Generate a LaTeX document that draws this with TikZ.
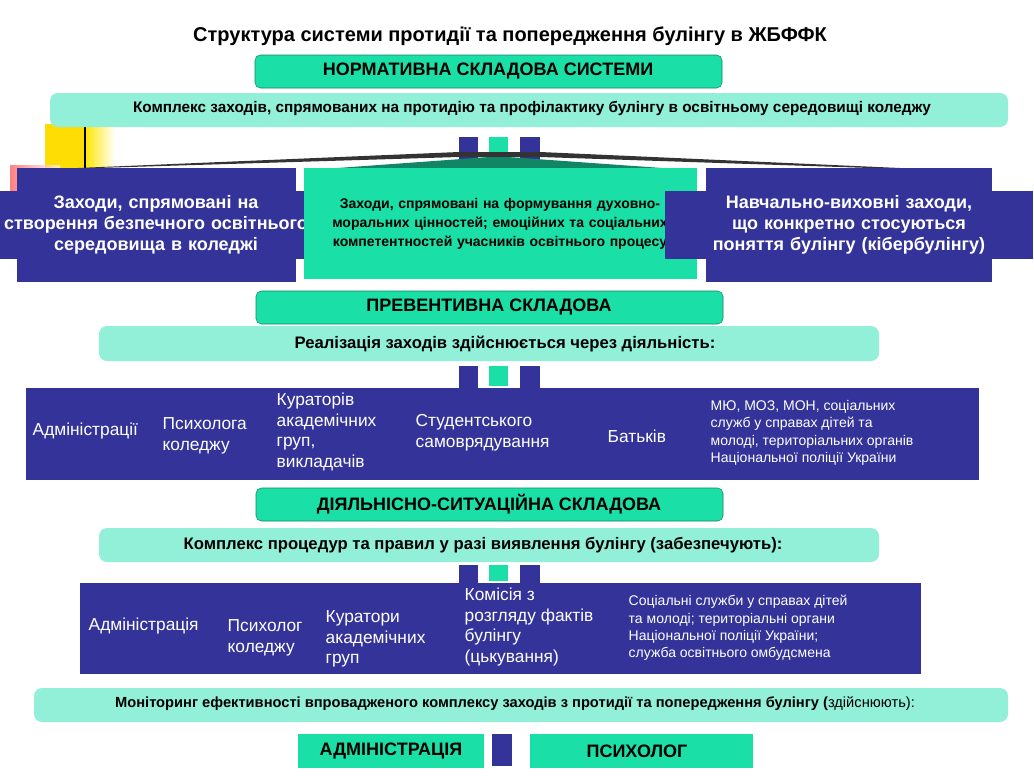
\documentclass[tikz,border=0pt]{standalone}
\usepackage{fontspec}
\setmainfont{Liberation Sans}
\definecolor{navy}{HTML}{333399}
\definecolor{mint}{HTML}{1ADFA6}
\definecolor{lmint}{HTML}{92F0D8}
\begin{document}
\begin{tikzpicture}[x=0.75pt,y=-0.75pt,
 hdr/.style={fill=mint,draw=mint!60!black,rounded corners=4pt,font=\bfseries\fontsize{13.5}{15}\selectfont},
 lbar/.style={fill=lmint,rounded corners=6pt,font=\bfseries\fontsize{11.5}{13}\selectfont},
 nbox/.style={fill=navy,text=white,font=\bfseries\fontsize{13.5}{16}\selectfont,align=center},
 band/.style={fill=navy},
 btxt/.style={text=white,anchor=west,align=left,font=\fontsize{13}{15.5}\selectfont},
 stxt/.style={text=white,anchor=west,align=left,font=\fontsize{10.5}{13}\selectfont}]
\useasboundingbox (0,0) rectangle (1034,775);
\node (title) at (510,36) {\bfseries\fontsize{15}{18}\selectfont Структура системи протидії та попередження булінгу в ЖБФФК};
% decorations
\fill[yellow!80!orange] (45,124) rectangle (85,190);
\shade[left color=yellow!80!orange,right color=white] (85,124) rectangle (115,190);
\shade[left color=red!70,right color=white,opacity=0.7] (10,165) rectangle (60,215);
\draw[thick] (85,100) -- (85,172);
\path[hdr] (255,55) rectangle (722,88);
\node (n1) at (488,71) {\bfseries\fontsize{13.5}{15}\selectfont НОРМАТИВНА СКЛАДОВА СИСТЕМИ};
\path[lbar] (50,93) rectangle (1008,127);
\node (k1) at (532,108) {\bfseries\fontsize{11.5}{13}\selectfont Комплекс заходів, спрямованих на протидію та профілактику булінгу в освітньому середовищі коледжу};
% connector squares
\fill[navy] (459,137) rectangle (478,160);
\fill[mint] (489,137) rectangle (508,160);
\fill[navy] (520,137) rectangle (540,160);
\fill[black!80] (30,170) -- (459,152) -- (540,152) -- (990,172) -- (540,157) -- (459,157) -- cycle;
\fill[mint!60!black] (310,170) -- (489,157) -- (508,157) -- (690,170) -- cycle;
\draw[gray!60,thick] (296,202) -- (706,202);
\fill[navy] (17,168) rectangle (296,282);
\node[nbox,text width=270] (b1) at (156,225) {Заходи, спрямовані на створення безпечного освітнього середовища в коледжі};
\fill[mint] (304,168) rectangle (697,279);
\node[align=center,font=\bfseries\fontsize{10.5}{14.5}\selectfont,text width=385] (b2) at (500,224) {Заходи, спрямовані на формування духовно-моральних цінностей; емоційних та соціальних компетентностей учасників освітнього процесу};
\fill[navy] (706,168) rectangle (992,282);
\node[nbox,text width=270] (b3) at (849,225) {Навчально-виховні заходи, що конкретно стосуються поняття булінгу (кібербулінгу)};
% preventive
\path[hdr] (256,291) rectangle (723,324);
\node (n2) at (489,307) {\bfseries\fontsize{13.5}{15}\selectfont ПРЕВЕНТИВНА СКЛАДОВА};
\path[lbar] (99,326) rectangle (879,361);
\node (k2) at (505,344) {\bfseries\fontsize{12.5}{14}\selectfont Реалізація заходів здійснюється через діяльність:};
\fill[navy] (459,366) rectangle (478,389);
\fill[mint] (489,366) rectangle (508,386);
\fill[navy] (520,366) rectangle (540,389);
\path[band] (26,388) rectangle (979,480);
\node[btxt] (p1) at (28,431) {Адміністрації};
\node[btxt] (p2) at (158,436) {Психолога\\коледжу};
\node[btxt] (p3) at (272,432) {Кураторів\\академічних\\груп,\\викладачів};
\node[btxt] (p4) at (411,433) {Студентського\\самоврядування};
\node[btxt] (p5) at (603,436) {Батьків};
\node[stxt] (p6) at (706,433) {МЮ, МОЗ, МОН, соціальних\\служб у справах дітей та\\молоді, територіальних органів\\Національної поліції України};
% situational
\path[hdr] (256,488) rectangle (723,521);
\node (n3) at (489,504) {\bfseries\fontsize{13.5}{15}\selectfont ДІЯЛЬНІСНО-СИТУАЦІЙНА СКЛАДОВА};
\path[lbar] (99,528) rectangle (879,562);
\node (k3) at (483,545) {\bfseries\fontsize{12.5}{14}\selectfont Комплекс процедур та правил у разі виявлення булінгу (забезпечують):};
\fill[navy] (459,565) rectangle (478,584);
\fill[mint] (489,565) rectangle (508,581);
\fill[navy] (520,565) rectangle (540,584);
\path[band] (80,583) rectangle (921,674);
\node[btxt] (s1) at (84,626) {Адміністрація};
\node[btxt] (s2) at (223,638) {Психолог\\коледжу};
\node[btxt] (s3) at (321,639) {Куратори\\академічних\\груп};
\node[btxt] (s4) at (460,627) {Комісія з\\розгляду фактів\\булінгу\\(цькування)};
\node[stxt] (s5) at (624,628) {Соціальні служби у справах дітей\\та молоді; територіальні органи\\Національної поліції України;\\служба освітнього омбудсмена};
% monitoring
\path[lbar] (34,688) rectangle (1008,722);
\node (k4) at (515,704) {\bfseries\fontsize{11}{13}\selectfont Моніторинг ефективності впровадженого комплексу заходів з протидії та попередження булінгу (\mdseries здійснюють):};
\fill[mint] (298,734) rectangle (484,768);
\node (a1) at (391,751) {\bfseries\fontsize{13.5}{15}\selectfont АДМІНІСТРАЦІЯ};
\fill[navy] (492,734) rectangle (512,766);
\fill[mint] (530,734) rectangle (753,768);
\node (a2) at (637,751) {\bfseries\fontsize{13.5}{15}\selectfont ПСИХОЛОГ};
\end{tikzpicture}
\end{document}
